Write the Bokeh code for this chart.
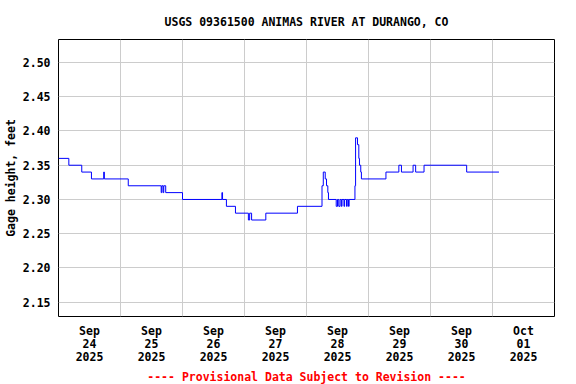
import pandas as pd
from bokeh.plotting import figure
from bokeh.models import FixedTicker, Range1d, Title
from bokeh.embed import file_html
from bokeh.resources import INLINE

# Change points of the 15-minute gage height record (local time) and values (feet)
times = [
    "2025-09-24 00:00", "2025-09-24 04:00", "2025-09-24 09:00", "2025-09-24 12:45",
    "2025-09-24 17:30", "2025-09-24 17:45", "2025-09-25 03:00", "2025-09-25 15:45",
    "2025-09-25 16:00", "2025-09-25 16:30", "2025-09-25 16:45", "2025-09-25 17:30",
    "2025-09-26 00:00", "2025-09-26 15:15", "2025-09-26 15:30", "2025-09-26 17:00",
    "2025-09-26 20:30", "2025-09-27 01:30", "2025-09-27 02:00", "2025-09-27 02:45",
    "2025-09-27 08:15", "2025-09-27 20:30", "2025-09-28 06:00", "2025-09-28 06:30",
    "2025-09-28 07:15", "2025-09-28 07:45", "2025-09-28 08:15", "2025-09-28 08:30",
    "2025-09-28 11:30", "2025-09-28 12:00", "2025-09-28 12:30", "2025-09-28 13:00",
    "2025-09-28 13:30", "2025-09-28 13:45", "2025-09-28 14:30", "2025-09-28 14:45",
    "2025-09-28 15:30", "2025-09-28 15:45", "2025-09-28 16:15", "2025-09-28 16:30",
    "2025-09-28 18:45", "2025-09-28 19:00", "2025-09-28 19:45", "2025-09-28 20:15",
    "2025-09-28 20:30", "2025-09-28 21:00", "2025-09-28 21:15", "2025-09-29 06:45",
    "2025-09-29 11:45", "2025-09-29 12:45", "2025-09-29 17:15", "2025-09-29 18:15",
    "2025-09-29 21:30", "2025-09-30 14:00", "2025-10-01 02:30",
]
heights = [
    2.36, 2.35, 2.34, 2.33,
    2.34, 2.33, 2.32, 2.31,
    2.32, 2.31, 2.32, 2.31,
    2.30, 2.31, 2.30, 2.29,
    2.28, 2.27, 2.28, 2.27,
    2.28, 2.29, 2.32, 2.34,
    2.33, 2.32, 2.31, 2.30,
    2.29, 2.30, 2.29, 2.30,
    2.29, 2.30, 2.29, 2.30,
    2.29, 2.30, 2.29, 2.30,
    2.32, 2.39, 2.38, 2.36,
    2.35, 2.34, 2.33, 2.34,
    2.35, 2.34, 2.35, 2.34,
    2.35, 2.34, 2.34,
]

y_ticks = [2.15, 2.20, 2.25, 2.30, 2.35, 2.40, 2.45, 2.50]
y_tick_labels = ["2.15", "2.20", "2.25", "2.30", "2.35", "2.40", "2.45", "2.50"]
label_days = ["2025-09-24", "2025-09-25", "2025-09-26", "2025-09-27",
              "2025-09-28", "2025-09-29", "2025-09-30", "2025-10-01"]
day_labels = ["Sep\n24\n2025", "Sep\n25\n2025", "Sep\n26\n2025", "Sep\n27\n2025",
              "Sep\n28\n2025", "Sep\n29\n2025", "Sep\n30\n2025", "Oct\n01\n2025"]
grid_days = ["2025-09-24", "2025-09-25", "2025-09-26", "2025-09-27", "2025-09-28",
             "2025-09-29", "2025-09-30", "2025-10-01", "2025-10-02"]

title_text = "USGS 09361500 ANIMAS RIVER AT DURANGO, CO"
y_label = "Gage height, feet"
footer_text = "---- Provisional Data Subject to Revision ----"

FONT = "DejaVu Sans Mono"
FS = "11.5px"

W, H = 576, 384
FRAME_L, FRAME_R, FRAME_T, FRAME_B = 58, 554, 39, 316
Y0, Y1 = 2.1291, 2.5336

t = pd.to_datetime(times)


def ms(ts):
    return int(pd.Timestamp(ts).value // 10**6)


x_start = pd.Timestamp(grid_days[0])
x_end = pd.Timestamp(grid_days[-1])

p = figure(width=W, height=H, x_axis_type="datetime",
           output_backend="svg", toolbar_location=None,
           x_range=Range1d(x_start, x_end), y_range=Range1d(Y0, Y1),
           min_border_left=FRAME_L, min_border_right=W - FRAME_R,
           min_border_top=FRAME_T, min_border_bottom=H - FRAME_B)

p.step(t, heights, mode="after", line_color="#0000ff", line_width=1)

# Title
p.title.text = title_text
p.title.align = "center"
p.title.text_font = FONT
p.title.text_font_size = FS
p.title.text_font_style = "bold"
p.title.text_color = "black"
p.title.standoff = 22

# Frame
p.outline_line_color = "black"
p.outline_line_width = 1
p.background_fill_color = "white"
p.border_fill_color = "white"

# X axis: labels at noon, grid at midnight
noon_ticks = [ms(pd.Timestamp(d) + pd.Timedelta(hours=12)) for d in label_days]
mid_ticks = [ms(d) for d in grid_days]
p.xaxis.ticker = FixedTicker(ticks=noon_ticks)
p.xaxis.major_label_overrides = dict(zip(noon_ticks, day_labels))
p.xgrid.ticker = FixedTicker(ticks=mid_ticks)

# Y axis
p.yaxis.ticker = FixedTicker(ticks=y_ticks)
p.yaxis.major_label_overrides = dict(zip(y_ticks, y_tick_labels))
p.yaxis.axis_label = y_label
p.yaxis.axis_label_standoff = 2
p.yaxis.axis_label_text_font = FONT
p.yaxis.axis_label_text_font_size = FS
p.yaxis.axis_label_text_font_style = "bold"
p.yaxis.axis_label_text_color = "black"

for ax in (p.xaxis, p.yaxis):
    ax.axis_line_color = None
    ax.major_tick_line_color = None
    ax.minor_tick_line_color = None
    ax.major_tick_out = 0
    ax.major_tick_in = 0
    ax.major_label_text_font = FONT
    ax.major_label_text_font_size = FS
    ax.major_label_text_font_style = "bold"
    ax.major_label_text_color = "black"

p.xaxis.major_label_standoff = 7
p.xaxis.major_label_text_line_height = 0.95
p.yaxis.major_label_standoff = 8

p.xgrid.grid_line_color = "#cccccc"
p.ygrid.grid_line_color = "#cccccc"
p.xgrid.grid_line_width = 1
p.ygrid.grid_line_width = 1

# Footer note below the date labels
footer = Title(text=footer_text, align="center", text_color="#ff0000",
               text_font=FONT, text_font_size=FS, text_font_style="bold",
               standoff=0)
p.add_layout(footer, "below")

open("out.html", "w").write(file_html(p, INLINE))
